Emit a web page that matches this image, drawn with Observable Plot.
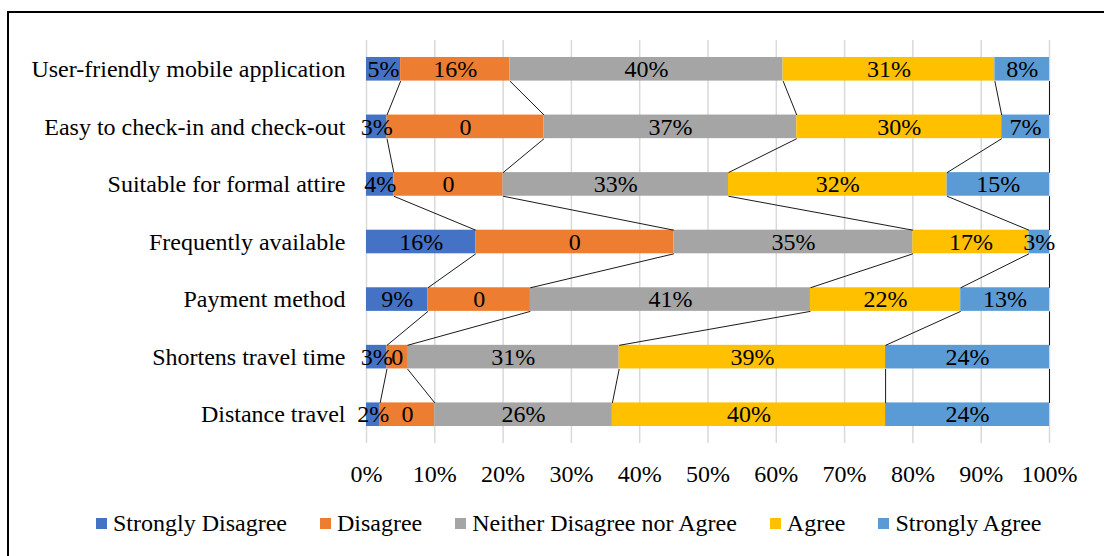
<!DOCTYPE html>
<html>
<head>
<meta charset="utf-8">
<script src="https://cdn.jsdelivr.net/npm/d3@7"></script>
<script src="https://cdn.jsdelivr.net/npm/@observablehq/plot@0.6"></script>
<style>
  html, body { margin: 0; padding: 0; background: #fff; }
  body { width: 1104px; height: 556px; position: relative; overflow: hidden; font-family: "Liberation Serif", "Times New Roman", serif; }
  #frame { position: absolute; left: 7px; top: 11px; width: 1200px; height: 700px; border-left: 2px solid #000; border-top: 2px solid #000; box-sizing: border-box; }
  #chart { position: absolute; left: 0; top: 0; }
  #legend { position: absolute; left: 96px; top: 510px; display: flex; align-items: center; gap: 33px; font-size: 24px; color: #000; white-space: nowrap; }
  #legend .item { display: flex; align-items: center; }
  #legend .sw { width: 11px; height: 11px; margin-right: 6px; display: inline-block; }
</style>
</head>
<body>
<div id="frame"></div>
<div id="chart"></div>
<div id="legend"></div>
<script>
const categories = [
  "User-friendly mobile application",
  "Easy to check-in and check-out",
  "Suitable for formal attire",
  "Frequently available",
  "Payment method",
  "Shortens travel time",
  "Distance travel"
];
const seriesNames = ["Strongly Disagree", "Disagree", "Neither Disagree nor Agree", "Agree", "Strongly Agree"];
const seriesColors = ["#4472C4", "#ED7D31", "#A5A5A5", "#FFC000", "#5B9BD5"];

const stronglyDisagree = [5, 3, 4, 16, 9, 3, 2];
const disagree         = [16, 23, 16, 29, 15, 3, 8];
const neither          = [40, 37, 33, 35, 41, 31, 26];
const agree            = [31, 30, 32, 17, 22, 39, 40];
const stronglyAgree    = [8, 7, 15, 3, 13, 24, 24];

const stronglyDisagreeLabels = ["5%", "3%", "4%", "16%", "9%", "3%", "2%"];
const disagreeLabels         = ["16%", "0", "0", "0", "0", "0", "0"];
const neitherLabels          = ["40%", "37%", "33%", "35%", "41%", "31%", "26%"];
const agreeLabels            = ["31%", "30%", "32%", "17%", "22%", "39%", "40%"];
const stronglyAgreeLabels    = ["8%", "7%", "15%", "3%", "13%", "24%", "24%"];

const xTicks = [0, 10, 20, 30, 40, 50, 60, 70, 80, 90, 100];
const xTickLabels = ["0%", "10%", "20%", "30%", "40%", "50%", "60%", "70%", "80%", "90%", "100%"];

const seriesValues = [stronglyDisagree, disagree, neither, agree, stronglyAgree];
const seriesLabels = [stronglyDisagreeLabels, disagreeLabels, neitherLabels, agreeLabels, stronglyAgreeLabels];

const half = 0.205;
const segs = [];
const ends = categories.map(() => []);
categories.forEach((c, i) => {
  let acc = 0;
  seriesValues.forEach((vals, s) => {
    const v = vals[i];
    segs.push({row: i, series: seriesNames[s], x1: acc, x2: acc + v, label: seriesLabels[s][i]});
    acc += v;
    ends[i].push(acc);
  });
});
const links = [];
for (let s = 0; s < seriesNames.length; s++) {
  for (let i = 0; i < categories.length - 1; i++) {
    links.push({x1: ends[i][s], x2: ends[i + 1][s], y1: i + half, y2: i + 1 - half});
  }
}

const font = "'Liberation Serif', 'Times New Roman', serif";
const plot = Plot.plot({
  width: 1104,
  height: 500,
  marginLeft: 366,
  marginRight: 55,
  marginTop: 40,
  marginBottom: 57,
  style: {fontFamily: font, fontSize: "24px", background: "transparent", color: "#000"},
  x: {domain: [0, 100]},
  y: {domain: [-0.5, 6.5], reverse: true},
  color: {domain: seriesNames, range: seriesColors},
  marks: [
    Plot.gridX(xTicks, {stroke: "#d9d9d9", strokeOpacity: 1, strokeWidth: 1.5}),
    Plot.rect(segs, {x1: "x1", x2: "x2", y1: d => d.row - half, y2: d => d.row + half, fill: "series"}),
    Plot.link(links, {x1: "x1", x2: "x2", y1: "y1", y2: "y2", stroke: "#000", strokeWidth: 0.9}),
    Plot.text(segs, {x: d => (d.x1 + d.x2) / 2, y: "row", text: "label", fill: "#000", fontSize: 24, fontFamily: font}),
    Plot.axisX(xTicks, {tickSize: 0, tickPadding: 21, tickFormat: (d, i) => xTickLabels[xTicks.indexOf(d)], fontSize: 24, fontFamily: font, label: null}),
    Plot.axisY(d3.range(categories.length), {tickSize: 0, tickPadding: 21, tickFormat: i => categories[i], fontSize: 24, fontFamily: font, label: null})
  ]
});
document.getElementById("chart").appendChild(plot);

const legend = document.getElementById("legend");
seriesNames.forEach((n, i) => {
  const it = document.createElement("span");
  it.className = "item";
  const sw = document.createElement("span");
  sw.className = "sw";
  sw.style.background = seriesColors[i];
  it.appendChild(sw);
  const t = document.createElement("span");
  t.textContent = n;
  it.appendChild(t);
  legend.appendChild(it);
});
</script>
</body>
</html>
